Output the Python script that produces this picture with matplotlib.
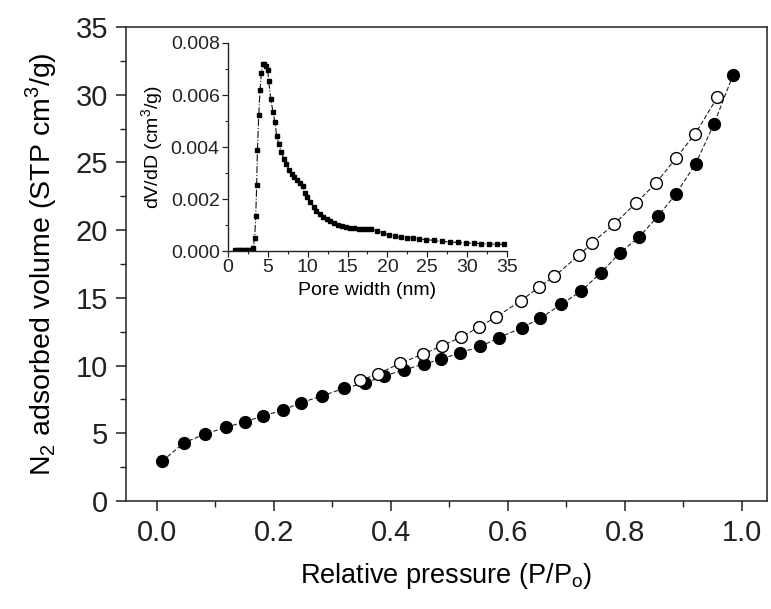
import matplotlib
matplotlib.use("Agg")
import matplotlib.pyplot as plt
from matplotlib.ticker import MultipleLocator

plt.rcParams['font.family'] = ['Liberation Sans', 'DejaVu Sans']
plt.rcParams['mathtext.fontset'] = 'custom'
plt.rcParams['mathtext.rm'] = 'Liberation Sans'

# Adsorption branch (filled)
ads_p = [0.009, 0.046, 0.082, 0.118, 0.150, 0.182, 0.215, 0.247, 0.282, 0.320,
         0.355, 0.389, 0.422, 0.456, 0.485, 0.518, 0.553, 0.584, 0.624, 0.655,
         0.691, 0.725, 0.759, 0.791, 0.825, 0.857, 0.887, 0.921, 0.952, 0.985]
ads_v = [2.95, 4.29, 4.95, 5.44, 5.85, 6.29, 6.71, 7.27, 7.76, 8.32,
         8.71, 9.24, 9.68, 10.10, 10.46, 10.95, 11.41, 12.05, 12.80, 13.49,
         14.51, 15.50, 16.85, 18.30, 19.52, 21.05, 22.65, 24.90, 27.80, 31.46]

# Desorption branch (open)
des_p = [0.347, 0.378, 0.416, 0.455, 0.487, 0.520, 0.551, 0.580, 0.622, 0.653,
         0.679, 0.721, 0.743, 0.782, 0.819, 0.853, 0.887, 0.920, 0.958]
des_v = [8.90, 9.39, 10.17, 10.85, 11.46, 12.10, 12.85, 13.59, 14.78, 15.78,
         16.58, 18.13, 19.02, 20.46, 22.00, 23.46, 25.30, 27.10, 29.80]

# Pore size distribution (inset)
pore_d = [0.9, 1.2, 1.5, 1.8, 2.1, 2.4, 2.7, 3.0, 3.14, 3.35, 3.48, 3.60, 3.69,
          3.86, 4.02, 4.19, 4.36, 4.57, 4.78, 4.99, 5.11, 5.36, 5.66, 5.87, 6.12,
          6.41, 6.66, 7.0, 7.33, 7.67, 8.0, 8.34, 8.68, 9.01, 9.35, 9.68, 9.97,
          10.35, 10.73, 11.1, 11.5, 11.94, 12.36, 12.8, 13.3, 13.8, 14.3, 14.8,
          15.3, 15.84, 16.4, 16.9, 17.5, 18.0, 18.7, 19.45, 20.2, 20.9, 21.7,
          22.4, 23.2, 24.0, 24.85, 25.8, 26.8, 27.8, 28.8, 29.8, 30.8, 31.8,
          32.8, 33.8, 34.6]
pore_dv = [0.00003, 0.00003, 0.00003, 0.00003, 0.00003, 0.00003, 0.00003, 0.00003,
           0.0001, 0.00051, 0.00133, 0.00253, 0.0039, 0.00524, 0.0062, 0.00685,
           0.00718, 0.0072, 0.0071, 0.00695, 0.00653, 0.00585, 0.00533, 0.00497,
           0.00441, 0.0041, 0.00381, 0.00355, 0.00333, 0.00313, 0.00297, 0.00285,
           0.00274, 0.00263, 0.0025, 0.00224, 0.00208, 0.00188, 0.00169, 0.00154,
           0.00141, 0.00131, 0.00123, 0.00115, 0.00108, 0.00101, 0.00096, 0.00092,
           0.0009, 0.00088, 0.00086, 0.00085, 0.00085, 0.00083, 0.00077, 0.00069,
           0.00062, 0.00056, 0.00053, 0.00051, 0.0005, 0.00046, 0.00044, 0.00041,
           0.00037, 0.00035, 0.00033, 0.00031, 0.0003, 0.00028, 0.00027, 0.00026,
           0.00026]

main_xticks = [0.0, 0.2, 0.4, 0.6, 0.8, 1.0]
main_xticklabels = ['0.0', '0.2', '0.4', '0.6', '0.8', '1.0']
main_yticks = [0, 5, 10, 15, 20, 25, 30, 35]
inset_xticks = [0, 5, 10, 15, 20, 25, 30, 35]
inset_yticks = [0.000, 0.002, 0.004, 0.006, 0.008]
inset_yticklabels = ['0.000', '0.002', '0.004', '0.006', '0.008']

fig = plt.figure(figsize=(7.71, 6.09), dpi=100)
ax = fig.add_axes([0.1634, 0.1773, 0.8314, 0.7784])

ax.plot(ads_p, ads_v, linestyle=(0, (4, 2)), color='#222222', lw=0.8,
        marker='o', ms=8.5, mfc='black', mec='black', zorder=3)
ax.plot(des_p, des_v, linestyle=(0, (4, 2)), color='#222222', lw=0.8,
        marker='o', ms=8.5, mfc='white', mec='black', mew=1.0, zorder=3)

ax.set_xlim(-0.053, 1.043)
ax.set_ylim(0, 35)
ax.set_xticks(main_xticks)
ax.set_xticklabels(main_xticklabels)
ax.set_yticks(main_yticks)
ax.xaxis.set_minor_locator(MultipleLocator(0.1))
ax.yaxis.set_minor_locator(MultipleLocator(2.5))
ax.tick_params(which='major', direction='out', length=7, width=1.1, labelsize=21, pad=6, colors='#222222')
ax.tick_params(which='minor', direction='out', length=4, width=1.0, colors='#222222')
ax.tick_params(top=False, right=False, which='both')
for s in ax.spines.values():
    s.set_linewidth(1.1)
    s.set_color('#222222')
ax.set_xlabel(r'Relative pressure (P/P$_{\mathregular{o}}$)', fontsize=19.5, labelpad=10)
ax.set_ylabel(r'N$_{\mathregular{2}}$ adsorbed volume (STP cm$^{\mathregular{3}}$/g)', fontsize=20.5, labelpad=12)

ins = fig.add_axes([0.2957, 0.5878, 0.3619, 0.3416])
ins.patch.set_alpha(0)
ins.plot(pore_d, pore_dv, linestyle='-.', color='#111111', lw=0.8,
         marker='s', ms=3.5, mfc='black', mec='black')
ins.set_xlim(0, 35)
ins.set_ylim(0, 0.008)
ins.set_xticks(inset_xticks)
ins.set_yticks(inset_yticks)
ins.set_yticklabels(inset_yticklabels)
ins.xaxis.set_minor_locator(MultipleLocator(2.5))
ins.yaxis.set_minor_locator(MultipleLocator(0.001))
ins.spines['top'].set_visible(False)
ins.spines['right'].set_visible(False)
for s in ['left', 'bottom']:
    ins.spines[s].set_linewidth(1.0)
    ins.spines[s].set_color('#222222')
ins.tick_params(which='major', direction='out', length=4, width=0.9, labelsize=14, pad=2, colors='#222222')
ins.tick_params(which='minor', direction='out', length=2.5, width=0.8, colors='#222222')
ins.set_xlabel('Pore width (nm)', fontsize=14, labelpad=4)
ins.set_ylabel(r'dV/dD (cm$^{\mathregular{3}}$/g)', fontsize=14, labelpad=3)

fig.savefig('out.png', dpi=100)
